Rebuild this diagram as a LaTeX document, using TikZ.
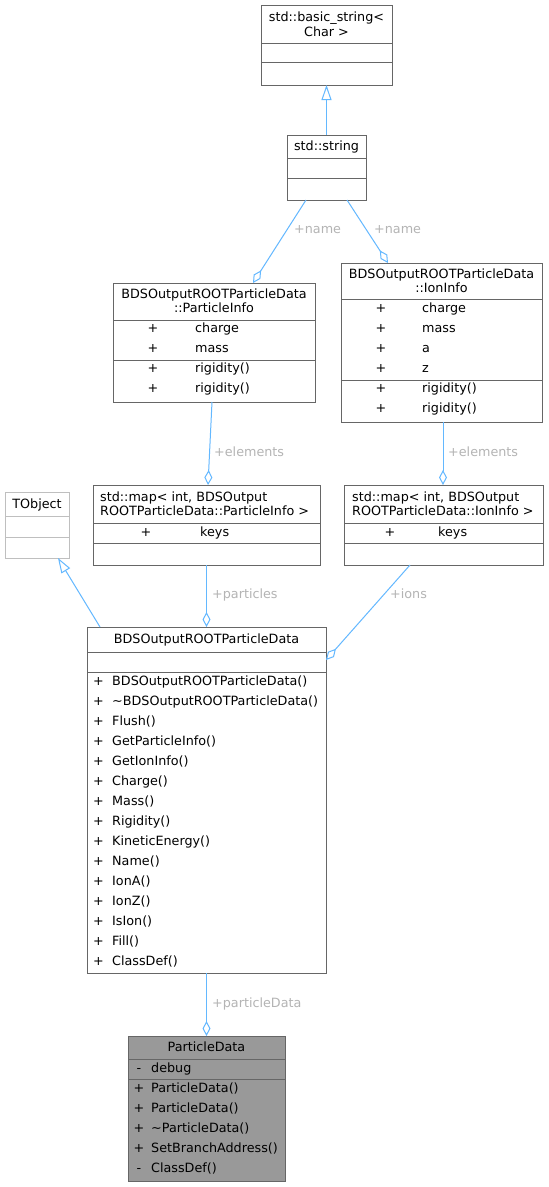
\documentclass[tikz,border=0pt]{standalone}
\usepackage{fontspec}
\setmainfont{DejaVu Sans}
\usetikzlibrary{arrows.meta}
\definecolor{edgec}{HTML}{63B8FF}
\definecolor{boxc}{HTML}{666666}
\definecolor{lblc}{HTML}{B4B4B4}
\definecolor{pdfill}{HTML}{999999}
\definecolor{tobjc}{HTML}{BFBFBF}
\begin{document}
\begin{tikzpicture}[x=1pt,y=-1pt,
  font=\fontsize{12.75}{15}\selectfont,
  box/.style={draw=boxc, line width=1pt, fill=white, anchor=north west, inner sep=0pt, outer sep=0pt},
  sep/.style={draw=boxc, line width=1pt},
  txt/.style={anchor=base, inner sep=0pt, yshift=-4.4pt},
  txl/.style={txt, anchor=base west},
  lbl/.style={anchor=base west, inner sep=0pt, yshift=-3.8pt, text=lblc},
  conn/.style={draw=edgec, line width=1pt},
  inh/.style={conn, -{Triangle[open, length=15pt, width=10pt, fill=white]}},
  agg/.style={conn, -{Diamond[open, length=15pt, width=8pt, fill=white]}}]
\useasboundingbox (0,0) rectangle (549,1187);
\fill[white] (0,0) rectangle (549,1187);

% ---------- boxes ----------
\node[box, minimum width=131pt, minimum height=80pt] (bs) at (261,5) {};
\draw[sep] (261,43) -- (392,43) (261,62) -- (392,62);
\node[txt] (bs1) at (326.5,17) {std::basic\_string<};
\node[txt] (bs2) at (326.5,32) {Char >};

\node[box, minimum width=79pt, minimum height=65pt] (str) at (287,135) {};
\draw[sep] (287,158) -- (366,158) (287,178) -- (366,178);
\node[txt] (str1) at (326.5,146) {std::string};

\node[box, minimum width=202pt, minimum height=119pt] (pi) at (113,283) {};
\draw[sep] (113,320) -- (315,320) (113,360) -- (315,360);
\node[txt] (pi1) at (214,294) {BDSOutputROOTParticleData};
\node[txt] (pi2) at (214,308) {::ParticleInfo};
\foreach \t [count=\i] in {charge,mass,rigidity(),rigidity()}{
  \node[txt] (pis\i) at (153,308+20*\i) {+};
  \node[txl] (pin\i) at (195,308+20*\i) {\t};
}

\node[box, minimum width=201pt, minimum height=159pt] (ii) at (341,263) {};
\draw[sep] (341,299) -- (542,299) (341,380) -- (542,380);
\node[txt] (ii1) at (441.5,274) {BDSOutputROOTParticleData};
\node[txt] (ii2) at (441.5,288) {::IonInfo};
\foreach \t [count=\i] in {charge,mass,a,z,rigidity(),rigidity()}{
  \node[txt] (iis\i) at (381,288+20*\i) {+};
  \node[txl] (iin\i) at (422,288+20*\i) {\t};
}

\node[box, draw=tobjc, minimum width=64pt, minimum height=66pt] (to) at (5,492) {};
\draw[sep, draw=tobjc] (5,516) -- (69,516) (5,537) -- (69,537);
\node[txt] (to1) at (37,504) {TObject};

\node[box, minimum width=227pt, minimum height=80pt] (mp) at (93,485) {};
\draw[sep] (93,523) -- (320,523) (93,543) -- (320,543);
\node[txl] (mp1) at (100,497) {std::map< int, BDSOutput};
\node[txl] (mp2) at (100,511) {ROOTParticleData::ParticleInfo >};
\node[txt] (mps1) at (146,532) {+};
\node[txl] (mpn1) at (200,532) {keys};

\node[box, minimum width=199pt, minimum height=80pt] (mi) at (344,485) {};
\draw[sep] (344,523) -- (543,523) (344,543) -- (543,543);
\node[txl] (mi1) at (352,497) {std::map< int, BDSOutput};
\node[txl] (mi2) at (352,511) {ROOTParticleData::IonInfo >};
\node[txt] (mis1) at (390,532) {+};
\node[txl] (min1) at (438,532) {keys};

\node[box, minimum width=239pt, minimum height=346pt] (mn) at (87,627) {};
\draw[sep] (87,652) -- (326,652) (87,672) -- (326,672);
\node[txt] (mn1) at (206.5,639) {BDSOutputROOTParticleData};
\foreach \t [count=\i] in {BDSOutputROOTParticleData(),\textasciitilde BDSOutputROOTParticleData(),Flush(),GetParticleInfo(),GetIonInfo(),Charge(),Mass(),Rigidity(),KineticEnergy(),Name(),IonA(),IonZ(),IsIon(),Fill(),ClassDef()}{
  \node[txt] (mns\i) at (98.5,661+20*\i) {+};
  \node[txl] (mnn\i) at (112,661+20*\i) {\t};
}

\node[box, fill=pdfill, minimum width=157pt, minimum height=145pt] (pd) at (128,1036) {};
\draw[sep] (128,1059) -- (285,1059) (128,1079) -- (285,1079);
\node[txt] (pd1) at (206.5,1047) {ParticleData};
\node[txt] (pds0) at (139,1068) {-};
\node[txl] (pdn0) at (151,1068) {debug};
\foreach \s/\t [count=\i] in {+/ParticleData(),+/ParticleData(),+/\textasciitilde ParticleData(),+/SetBranchAddress(),-/ClassDef()}{
  \node[txt] (pds\i) at (139,1068+20*\i) {\s};
  \node[txl] (pdn\i) at (151,1068+20*\i) {\t};
}

% ---------- connectors ----------
\draw[inh] (str.north) -- (bs.south);
\draw[agg] ([xshift=-20.5pt]str.south) -- ([xshift=39pt]pi.north);
\draw[agg] ([xshift=20.5pt]str.south) -- ([xshift=-53.5pt]ii.north);
\draw[agg] ([xshift=-2pt]pi.south) -- ([xshift=1.5pt]mp.north);
\draw[agg] ([xshift=1.5pt]ii.south) -- ([xshift=-0.5pt]mi.north);
\draw[agg] (mp.south) -- (mn.north);
\draw[agg] ([xshift=-33.5pt]mi.south) -- ([yshift=140pt]mn.east);
\draw[inh] ([xshift=-106.5pt]mn.north) -- ([xshift=21pt]to.south);
\draw[agg] (mn.south) -- (pd.north);

% ---------- labels ----------
\node[lbl] (l1) at (294,230) {+name};
\node[lbl] (l2) at (374,230) {+name};
\node[lbl] (l3) at (214,453) {+elements};
\node[lbl] (l4) at (448,453) {+elements};
\node[lbl] (l5) at (212,595) {+particles};
\node[lbl] (l6) at (390,595) {+ions};
\node[lbl, yshift=-0.5pt] (l7) at (212,1003) {+particleData};
\end{tikzpicture}
\end{document}
